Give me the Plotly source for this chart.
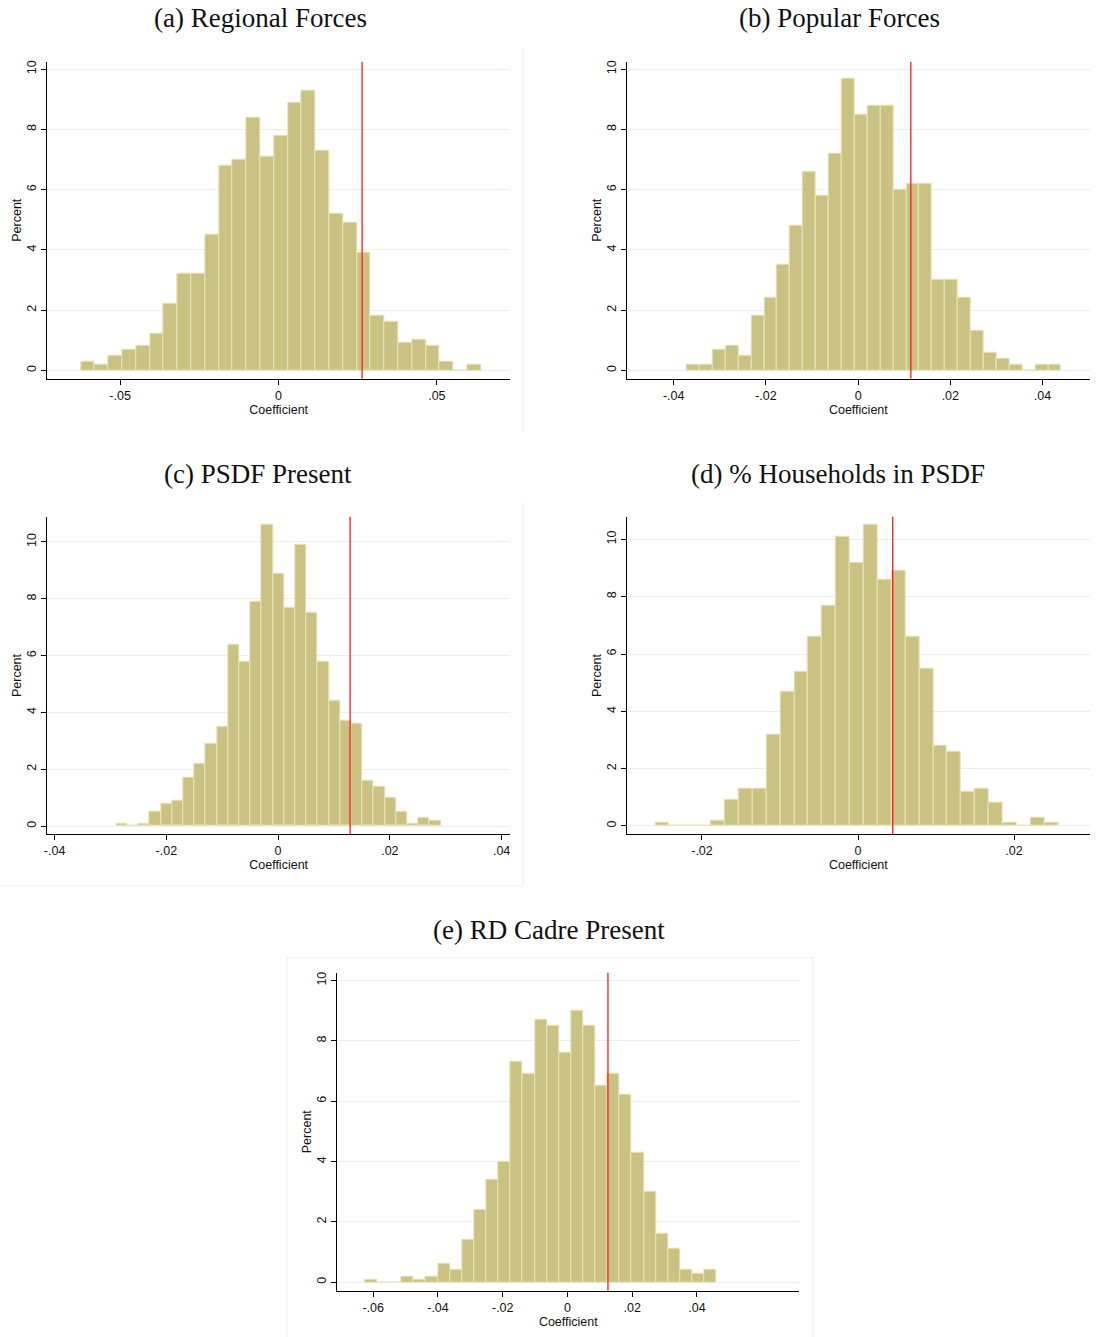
import plotly.graph_objects as go

W, H = 1097, 1337

# Permutation distributions of the estimated coefficient (percent of draws per bin)
titles = ["(a) Regional Forces", "(b) Popular Forces", "(c) PSDF Present",
          "(d) % Households in PSDF", "(e) RD Cadre Present"]

bin_start = [-0.0624, -0.03716, -0.0290, -0.02599, -0.0625]
bin_width = [0.004357, 0.0028, 0.002005, 0.001782, 0.003743]

pct_a = [0.3, 0.2, 0.5, 0.7, 0.8, 1.2, 2.2, 3.2, 3.2, 4.5, 6.8, 7.0, 8.4, 7.1, 7.8,
         8.9, 9.3, 7.3, 5.2, 4.9, 3.9, 1.8, 1.6, 0.9, 1.0, 0.8, 0.3, 0.0, 0.2]
pct_b = [0.2, 0.2, 0.7, 0.8, 0.5, 1.8, 2.4, 3.5, 4.8, 6.6, 5.8, 7.2, 9.7, 8.5, 8.8,
         8.8, 6.0, 6.2, 6.2, 3.0, 3.0, 2.4, 1.3, 0.6, 0.4, 0.2, 0.0, 0.2, 0.2]
pct_c = [0.1, 0.0, 0.1, 0.5, 0.8, 0.9, 1.7, 2.2, 2.9, 3.5, 6.4, 5.8, 7.9, 10.6, 8.9,
         7.7, 9.9, 7.5, 5.8, 4.4, 3.7, 3.6, 1.6, 1.4, 1.0, 0.5, 0.1, 0.3, 0.2]
pct_d = [0.1, 0.0, 0.0, 0.0, 0.2, 0.9, 1.3, 1.3, 3.2, 4.7, 5.4, 6.6, 7.7, 10.1, 9.2,
         10.5, 8.6, 8.9, 6.6, 5.5, 2.8, 2.6, 1.2, 1.3, 0.8, 0.1, 0.0, 0.3, 0.1]
pct_e = [0.1, 0.0, 0.0, 0.2, 0.1, 0.2, 0.6, 0.4, 1.4, 2.4, 3.4, 4.0, 7.3, 6.9, 8.7,
         8.5, 7.6, 9.0, 8.5, 6.5, 6.9, 6.2, 4.3, 3.0, 1.6, 1.1, 0.4, 0.3, 0.4]
percents = [pct_a, pct_b, pct_c, pct_d, pct_e]

# Actual (observed) coefficient, marked with a red line
observed = [0.0264, 0.01143, 0.01289, 0.00445, 0.0125]

x_ranges = [[-0.0730, 0.0731], [-0.0502, 0.0503], [-0.0413, 0.0415],
            [-0.02965, 0.02974], [-0.0711, 0.0716]]
y_ranges = [[-0.28, 10.25], [-0.28, 10.25], [-0.29, 10.89], [-0.29, 10.79], [-0.28, 10.26]]

x_tickvals = [[-0.05, 0, 0.05], [-0.04, -0.02, 0, 0.02, 0.04],
              [-0.04, -0.02, 0, 0.02, 0.04], [-0.02, 0, 0.02],
              [-0.06, -0.04, -0.02, 0, 0.02, 0.04]]
x_ticktext = [["-.05", "0", ".05"], ["-.04", "-.02", "0", ".02", ".04"],
              ["-.04", "-.02", "0", ".02", ".04"], ["-.02", "0", ".02"],
              ["-.06", "-.04", "-.02", "0", ".02", ".04"]]
y_tickvals = [0, 2, 4, 6, 8, 10]
y_ticktext = ["0", "2", "4", "6", "8", "10"]

# Plot regions in pixels: (left, right, top, bottom)
boxes = [(47.3, 510, 61.7, 378.7), (626.7, 1090, 61.7, 378.7),
         (47.3, 510, 516.7, 834.3), (626.7, 1090, 516.7, 834.3),
         (337.3, 799.3, 972.7, 1290.7)]
title_pos = [(260, 18), (839, 18), (258, 474), (838, 474), (549, 930)]

BAR_FILL = "#c9c282"
BAR_EDGE = "#e9e4b8"
GRID = "#e8eff1"
TICK_FONT = dict(family="Liberation Sans, Arial, sans-serif", size=12.5, color="#111")

fig = go.Figure()
shapes = []
annotations = []

for i in range(5):
    sfx = "" if i == 0 else str(i + 1)
    xa, ya = "x" + sfx, "y" + sfx
    centers = [bin_start[i] + bin_width[i] * (k + 0.5) for k in range(len(percents[i]))]
    fig.add_trace(go.Bar(
        x=centers, y=percents[i], width=bin_width[i],
        marker=dict(color=BAR_FILL, line=dict(color=BAR_EDGE, width=1)),
        xaxis=xa, yaxis=ya, showlegend=False, hoverinfo="skip"))

    l, r, t, b = boxes[i]
    fig.layout["xaxis" + sfx] = dict(
        domain=[l / W, r / W], anchor=ya, range=x_ranges[i], automargin=False,
        showline=True, linecolor="#000", linewidth=1,
        ticks="outside", ticklen=5, tickcolor="#000", tickwidth=1,
        tickvals=x_tickvals[i], ticktext=x_ticktext[i], tickfont=TICK_FONT,
        showgrid=False, zeroline=False,
        title=dict(text="Coefficient", font=TICK_FONT, standoff=0))
    fig.layout["yaxis" + sfx] = dict(
        domain=[1 - b / H, 1 - t / H], anchor=xa, range=y_ranges[i], automargin=False,
        showline=True, linecolor="#000", linewidth=1,
        ticks="outside", ticklen=5, tickcolor="#000", tickwidth=1,
        tickvals=y_tickvals, ticktext=y_ticktext, tickangle=-90, tickfont=TICK_FONT,
        showgrid=True, gridcolor=GRID, gridwidth=1, zeroline=False,
        title=dict(text="Percent", font=TICK_FONT, standoff=0))

    shapes.append(dict(type="line", xref=xa, yref=ya + " domain",
                       x0=observed[i], x1=observed[i], y0=0, y1=1,
                       line=dict(color="#ff1a1a", width=1.3), layer="above"))

    tx, ty = title_pos[i]
    annotations.append(dict(
        text=titles[i], x=tx / W, y=1 - ty / H, xref="paper", yref="paper",
        xanchor="center", yanchor="middle", showarrow=False,
        font=dict(family="Liberation Serif, DejaVu Serif, serif", size=27, color="#111")))

# Faint frames around the individual graph images
FRAME = "#eeeeee"
for (x0, y0, x1, y1) in [(523, 48, 523, 432), (523, 503, 523, 886), (0, 886, 523, 886),
                         (287, 958, 287, 1337), (813, 958, 813, 1337), (287, 958, 813, 958)]:
    shapes.append(dict(type="line", xref="paper", yref="paper",
                       x0=x0 / W, x1=x1 / W, y0=1 - y0 / H, y1=1 - y1 / H,
                       line=dict(color=FRAME, width=1), layer="below"))

fig.update_layout(
    width=W, height=H, margin=dict(l=0, r=0, t=0, b=0),
    paper_bgcolor="white", plot_bgcolor="white",
    bargap=0, shapes=shapes, annotations=annotations,
    font=TICK_FONT)

fig.write_html("out.html")
